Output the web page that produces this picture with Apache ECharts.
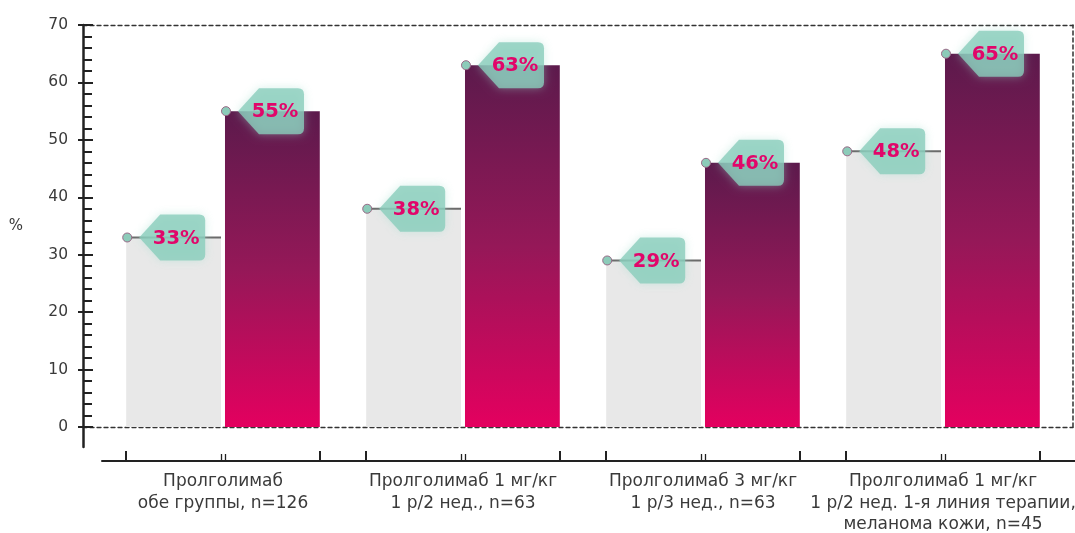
<!DOCTYPE html>
<html>
<head>
<meta charset="utf-8">
<script src="https://cdn.jsdelivr.net/npm/echarts@6/dist/echarts.min.js"></script>
<style>
  html, body { margin: 0; padding: 0; background: #ffffff; }
  #chart { width: 1075px; height: 533px; }
</style>
</head>
<body>
<div id="chart"></div>
<script>
// Categories (groups of two bars) and their values, in percent
const categories = [
  'Пролголимаб\nобе группы, n=126',
  'Пролголимаб 1 мг/кг\n1 р/2 нед., n=63',
  'Пролголимаб 3 мг/кг\n1 р/3 нед., n=63',
  'Пролголимаб 1 мг/кг\n1 р/2 нед. 1-я линия терапии,\nмеланома кожи, n=45'
];
const greyValues = [33, 38, 29, 48];
const pinkValues = [55, 63, 46, 65];

// Value axis range
const yMin = 0;
const yMax = 70;
const yStep = 10;

// Bar geometry, as fractions of the category band / bar width
const BAR_FRAC = 0.395;   // bar width relative to band
const GAP_FRAC = 0.042;   // gap between the two bars relative to bar width
const OUTER = BAR_FRAC * (1 + GAP_FRAC / 2);
const INNER = BAR_FRAC * GAP_FRAC / 2;

// Tick positions under the bars (band units: category i spans i..i+1)
const outerTicks = [];
const innerTicks = [];
categories.forEach((_, i) => {
  outerTicks.push(i + 0.5 - OUTER, i + 0.5 + OUTER);
  innerTicks.push(i + 0.5 - INNER, i + 0.5 + INNER);
});

const FONT = '"DejaVu Sans", "Noto Sans", sans-serif';
const TEXT = '#3a3a3a';

const tagData = [];
categories.forEach((_, i) => {
  tagData.push([i, greyValues[i], 0]);
  tagData.push([i, pinkValues[i], 1]);
});

// Price-tag style value label with a pin and a leader line
function renderTag(params, api) {
  const cat = api.value(0);
  const val = api.value(1);
  const side = api.value(2);
  const p = api.coord([cat, val]);
  const band = api.size([1, 0])[0];
  const bw = band * BAR_FRAC;
  const left = side === 0 ? p[0] - band * OUTER : p[0] + band * INNER;
  const y = p[1];
  const tip = left + 13, H = 46, W = 66, D = 21, r = 6;
  const top = y - H / 2, bot = y + H / 2, right = tip + W;
  const pathData =
    'M' + tip + ' ' + y +
    'L' + (tip + D) + ' ' + top +
    'L' + (right - r) + ' ' + top +
    'Q' + right + ' ' + top + ' ' + right + ' ' + (top + r) +
    'L' + right + ' ' + (bot - r) +
    'Q' + right + ' ' + bot + ' ' + (right - r) + ' ' + bot +
    'L' + (tip + D) + ' ' + bot + 'Z';
  const children = [];
  if (side === 0) {
    children.push({
      type: 'line',
      shape: { x1: left + 1, y1: y, x2: left + bw, y2: y },
      style: { stroke: '#6a6a6a', lineWidth: 2 }
    });
  }
  children.push({
    type: 'path',
    shape: { pathData: pathData },
    style: {
      fill: 'rgba(138,205,187,0.8)',
      shadowBlur: 10,
      shadowColor: 'rgba(160,220,204,0.55)'
    }
  });
  children.push({
    type: 'text',
    style: {
      x: tip + 37,
      y: y + 1,
      text: val + '%',
      align: 'center',
      verticalAlign: 'middle',
      fontFamily: FONT,
      fontWeight: 'bold',
      fontSize: 19.5,
      fill: '#e1066a'
    }
  });
  children.push({
    type: 'circle',
    shape: { cx: left + 1, cy: y, r: 4.5 },
    style: { fill: '#8ccbb9', stroke: '#9a6a88', lineWidth: 1 }
  });
  return { type: 'group', children: children };
}

const chart = echarts.init(document.getElementById('chart'), null, { renderer: 'canvas' });

const hiddenAxis = (grid) => ({
  gridIndex: grid, type: 'value', show: false, min: 0, max: 1
});

const dashed = { color: '#333', width: 1.3, type: [4, 3] };
const fixedGrid = (o) => Object.assign({ outerBoundsMode: 'none', containLabel: false }, o);

chart.setOption({
  animation: false,
  backgroundColor: '#ffffff',
  grid: [
    // 0: bars
    fixedGrid({ left: 103, right: 12, top: 25, bottom: 106 }),
    // 1: dashed frame, y ticks and labels
    fixedGrid({ left: 83, right: 2, top: 25, bottom: 106 }),
    // 2: solid y axis line
    fixedGrid({ left: 83, width: 10, top: 25, bottom: 86 }),
    // 3: solid x axis line
    fixedGrid({ left: 102, right: 0, top: 25, bottom: 72 })
  ],
  xAxis: [
    // category labels under the bars
    {
      gridIndex: 0, type: 'category', data: categories, offset: 34, position: 'bottom',
      axisLine: { show: false, onZero: false }, axisTick: { show: false },
      axisLabel: {
        margin: 10, color: TEXT, fontFamily: FONT, fontSize: 17,
        lineHeight: 21.5, interval: 0
      }
    },
    // long ticks at the outer bar edges
    {
      gridIndex: 0, type: 'value', min: 0, max: categories.length, offset: 34,
      position: 'bottom',
      axisLine: { show: false, onZero: false }, splitLine: { show: false },
      axisLabel: { show: false },
      axisTick: {
        show: true, inside: true, length: 10, customValues: outerTicks,
        lineStyle: { color: '#222', width: 2 }
      }
    },
    // short double ticks between the paired bars
    {
      gridIndex: 0, type: 'value', min: 0, max: categories.length, offset: 34,
      position: 'bottom',
      axisLine: { show: false, onZero: false }, splitLine: { show: false },
      axisLabel: { show: false },
      axisTick: {
        show: true, inside: true, length: 7, customValues: innerTicks,
        lineStyle: { color: '#222', width: 1.3 }
      }
    },
    // dashed frame: bottom (zero line)
    {
      gridIndex: 1, type: 'value', min: 0, max: 1, position: 'bottom',
      axisLine: { show: true, onZero: false, lineStyle: dashed },
      axisTick: { show: false }, axisLabel: { show: false }, splitLine: { show: false }
    },
    // dashed frame: top
    {
      gridIndex: 1, type: 'value', min: 0, max: 1, position: 'top',
      axisLine: { show: true, onZero: false, lineStyle: dashed },
      axisTick: { show: false }, axisLabel: { show: false }, splitLine: { show: false }
    },
    hiddenAxis(2),
    // solid x axis line
    {
      gridIndex: 3, type: 'value', min: 0, max: 1, position: 'bottom',
      axisLine: { show: true, onZero: false, lineStyle: { color: '#222', width: 2 } },
      axisTick: { show: false }, axisLabel: { show: false }, splitLine: { show: false }
    }
  ],
  yAxis: [
    { gridIndex: 0, type: 'value', min: yMin, max: yMax, interval: yStep, show: false },
    // labels, inside major ticks, minor ticks, name
    {
      gridIndex: 1, type: 'value', min: yMin, max: yMax, interval: yStep,
      position: 'left',
      name: '%', nameLocation: 'middle', nameRotate: 0, nameGap: 60,
      nameTextStyle: { color: TEXT, fontFamily: FONT, fontSize: 15 },
      axisLine: { show: false, onZero: false },
      axisTick: { show: true, inside: true, length: 10, lineStyle: { color: '#222', width: 2 } },
      minorTick: { show: true, splitNumber: 5, length: 9, lineStyle: { color: '#222', width: 2 } },
      axisLabel: { margin: 15, color: TEXT, fontFamily: FONT, fontSize: 15.5 },
      splitLine: { show: false }
    },
    // outside stubs of the major ticks
    {
      gridIndex: 1, type: 'value', min: yMin, max: yMax, interval: yStep,
      position: 'left',
      axisLine: { show: false, onZero: false },
      axisTick: { show: true, inside: false, length: 5, lineStyle: { color: '#222', width: 2 } },
      axisLabel: { show: false }, splitLine: { show: false }
    },
    // dashed frame: right
    {
      gridIndex: 1, type: 'value', min: yMin, max: yMax, position: 'right',
      axisLine: { show: true, onZero: false, lineStyle: { color: '#333', width: 1.5, type: [4, 3] } },
      axisTick: { show: false }, axisLabel: { show: false }, splitLine: { show: false }
    },
    // solid y axis line
    {
      gridIndex: 2, type: 'value', min: 0, max: 1, position: 'left',
      axisLine: { show: true, onZero: false, lineStyle: { color: '#222', width: 2.5 } },
      axisTick: { show: false }, axisLabel: { show: false }, splitLine: { show: false }
    },
    hiddenAxis(3)
  ],
  series: [
    {
      name: 'Серия 1', type: 'bar', xAxisIndex: 0, yAxisIndex: 0,
      data: greyValues,
      barWidth: (BAR_FRAC * 100) + '%', barGap: (GAP_FRAC * 100) + '%',
      itemStyle: { color: '#e8e8e8' }
    },
    {
      name: 'Серия 2', type: 'bar', xAxisIndex: 0, yAxisIndex: 0,
      data: pinkValues,
      barWidth: (BAR_FRAC * 100) + '%', barGap: (GAP_FRAC * 100) + '%',
      itemStyle: {
        color: new echarts.graphic.LinearGradient(0, 0, 0, 1, [
          { offset: 0, color: '#5c1a4c' },
          { offset: 0.5, color: '#951858' },
          { offset: 1, color: '#e4005f' }
        ])
      }
    },
    {
      name: 'Метки', type: 'custom', xAxisIndex: 0, yAxisIndex: 0,
      data: tagData, encode: { x: 0, y: 1 },
      renderItem: renderTag, clip: false, z: 5, silent: true
    }
  ]
});
</script>
</body>
</html>
